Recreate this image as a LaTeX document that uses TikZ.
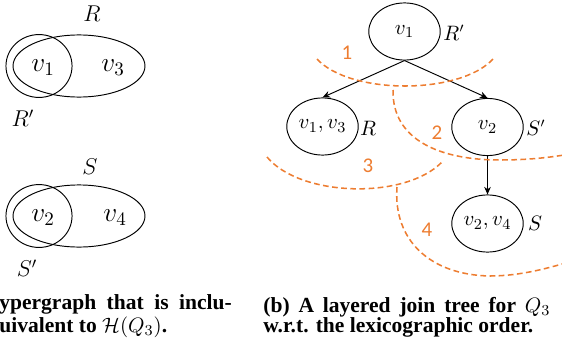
\documentclass[tikz,border=0pt]{standalone}
\usepackage{fontspec}
\usepackage{tikz}
\usetikzlibrary{shapes.geometric,arrows.meta}
\newfontfamily\capfont{Liberation Serif}
\newfontfamily\numfont{Carlito}
\definecolor{LyrLine}{RGB}{237,125,49}
\tikzset{
  nd_edge/.style={
    ellipse, draw=black, line width=0.5pt, inner sep=0pt},
  nd_tree/.style={
    ellipse, draw=black, line width=0.5pt, inner sep=0pt,
    minimum width=37.5pt, minimum height=30pt,
    font=\fontsize{11}{13}\selectfont},
  vtx/.style={font=\fontsize{14}{16}\selectfont, inner sep=0pt},
  lbl_big/.style={font=\fontsize{12}{14}\selectfont, inner sep=0pt},
  lbl/.style={font=\fontsize{10.5}{12}\selectfont, inner sep=0pt},
  lyr/.style={draw=LyrLine, line width=0.8pt,
    dash pattern=on 3pt off 1.8pt},
  lyrnum/.style={text=LyrLine, inner sep=0pt,
    font=\numfont\fontsize{11}{13}\selectfont},
  captxt/.style={anchor=base west, inner sep=0pt, align=left,
    font=\capfont\bfseries\fontsize{11.3}{10.5}\selectfont},
  arr/.style={-{Stealth[length=4pt,width=3.5pt]},line width=0.5pt},
}

\begin{document}
\begin{tikzpicture}[x=0.525pt,y=-0.525pt]
\useasboundingbox (0,0) rectangle (562,350);
\clip (0,0) rectangle (562,350);

%% (a) hypergraph
\node[lbl_big] at (92,14) (lR){$R$};
\node[nd_edge, minimum width=69.3pt, minimum height=32.6pt] at (79,66) (eR){};
\node[nd_edge, minimum width=34.7pt, minimum height=33pt] at (39,66) (eRp){};
\node[vtx] at (43,68)  (a1){$v_1$};
\node[vtx] at (113,68) (a3){$v_3$};
\node[lbl_big] at (23,118) (lRp){$R'$};

\node[lbl_big] at (90,167) (lS){$S$};
\node[nd_edge, minimum width=69.3pt, minimum height=32.6pt] at (79,216) (eS){};
\node[nd_edge, minimum width=34.7pt, minimum height=33pt] at (39,216) (eSp){};
\node[vtx] at (43,218)  (a2){$v_2$};
\node[vtx] at (115,218) (a4){$v_4$};
\node[lbl_big] at (27,268) (lSp){$S'$};

\node[captxt] at (-1,332) (capA){\makebox[122pt][s]{ypergraph that is inclu-}\\
  uivalent to $\mathcal{H}(Q_3)$.};

%% (b) layered join tree
\node[nd_tree] at (404.5,31.5) (T1){$v_1$};
\node[nd_tree] at (322.5,126.5) (T2){$v_1,v_3$};
\node[nd_tree] at (487.5,127) (T3){$v_2$};
\node[nd_tree] at (487.5,223.5) (T4){$v_2,v_4$};

\node[lbl] at (454,33)  (t1){$R'$};
\node[lbl] at (368,128) (t2){$R$};
\node[lbl] at (536,128) (t3){$S'$};
\node[lbl] at (535,223) (t4){$S$};

\draw[arr] (T1.south)--(T2.north);
\draw[arr] (T1.south)--(T3.north);
\draw[arr] (T3.south)--(T4.north);

% layers
\draw[lyr] (317,59) .. controls (350,95) and (460,95) .. (493,59);
\draw[lyr] (393,90) .. controls (392,140) and (440,160) .. (500,160)
  .. controls (530,160) and (555,157) .. (575,153);
\draw[lyr] (267,157) .. controls (300,197) and (405,200) .. (442,162);
\draw[lyr] (397,187) .. controls (393,240) and (430,275) .. (490,276)
  .. controls (520,276) and (550,268) .. (575,260);

\node[lyrnum] at (347,53)  (n1){1};
\node[lyrnum] at (437,133) (n2){2};
\node[lyrnum] at (368,166) (n3){3};
\node[lyrnum] at (427,230) (n4){4};

\node[captxt] at (263,332) (capB){\makebox[150.7pt][s]{(b) A layered join tree for $Q_3$}\\
  w.r.t. the lexicographic order.};

\end{tikzpicture}
\end{document}
